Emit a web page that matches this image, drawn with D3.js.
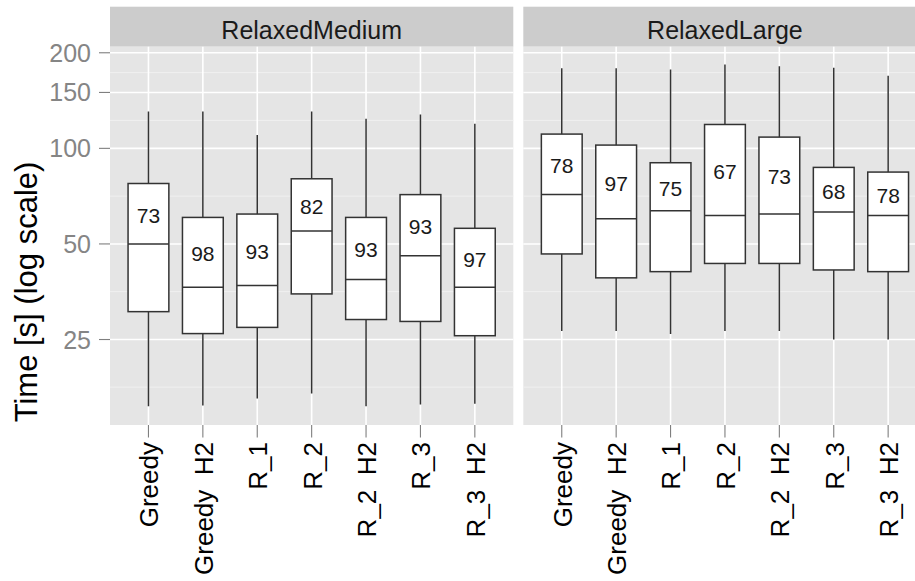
<!DOCTYPE html>
<html lang="en">
<head>
	<meta charset="utf-8">
	<title>Time per algorithm - RelaxedMedium / RelaxedLarge</title>
	<script src="https://cdn.jsdelivr.net/npm/d3@7"></script>
	<style>
		body { margin: 0; background: #fff; }
		svg { display: block; font-family: "Liberation Sans", Arial, sans-serif; }
		.xlab { white-space: pre; }
	</style>
</head>
<body>
	<svg width="915" height="581"></svg>

	<script type="text/javascript">

		// facets and categories
		var panels = ["RelaxedMedium", "RelaxedLarge"];
		var algorithms = ["Greedy", "Greedy  H2", "R_1", "R_2", "R_2  H2", "R_3", "R_3  H2"];

		// y axis (log scale)
		var yBreaks = [25, 50, 100, 150, 200];
		var yMinorBreaks = [17.7, 35.4, 70.7, 122.5, 173.2];

		// RelaxedMedium box stats (seconds)
		var lowMedium    = [15.4, 15.5, 16.3, 16.9, 15.4, 15.6, 15.7];
		var q1Medium     = [30.6, 26.1, 27.3, 34.8, 28.9, 28.5, 25.7];
		var medianMedium = [50.0, 36.5, 37.0, 54.9, 38.6, 45.9, 36.5];
		var q3Medium     = [77.5, 60.6, 62.1, 80.2, 60.6, 71.5, 56.0];
		var highMedium   = [130.6, 130.6, 110.1, 130.6, 123.9, 127.8, 119.5];
		var countMedium  = [73, 98, 93, 82, 93, 93, 97];

		// RelaxedLarge box stats (seconds)
		var lowLarge    = [26.6, 26.6, 26.0, 26.6, 26.6, 25.0, 25.0];
		var q1Large     = [46.5, 39.1, 40.9, 43.4, 43.4, 41.4, 40.9];
		var medianLarge = [71.6, 60.0, 63.6, 61.4, 62.1, 63.0, 61.4];
		var q3Large     = [110.9, 102.4, 90.1, 118.9, 108.5, 87.1, 84.2];
		var highLarge   = [178.9, 178.9, 177.1, 183.6, 181.5, 179.3, 169.2];
		var countLarge  = [78, 97, 75, 67, 73, 68, 78];

		function rows(low, q1, med, q3, high, count) {
			return algorithms.map(function(a, i) {
				return {name: a, low: low[i], q1: q1[i], median: med[i], q3: q3[i], high: high[i], count: count[i]};
			});
		}
		var boxData = [
			rows(lowMedium, q1Medium, medianMedium, q3Medium, highMedium, countMedium),
			rows(lowLarge, q1Large, medianLarge, q3Large, highLarge, countLarge)
		];

		var svg = d3.select("svg");

		var panelTop = 46.7, panelBottom = 425, panelW = 403.3;
		var panelLeft = [110, 523.3];
		var stripTop = 6.7;

		var y = d3.scaleLog()
			.domain([13.45, 209])
			.range([panelBottom, panelTop]);

		// y axis ticks + labels
		var yAxis = svg.append("g").attr("class", "y-axis");
		yAxis.selectAll("line").data(yBreaks).enter().append("line")
			.attr("x1", 99).attr("x2", panelLeft[0])
			.attr("y1", function(d) { return y(d); })
			.attr("y2", function(d) { return y(d); })
			.attr("stroke", "#7f7f7f").attr("stroke-width", 1.1);
		yAxis.selectAll("text").data(yBreaks).enter().append("text")
			.attr("x", 91)
			.attr("y", function(d) { return y(d); })
			.attr("dy", "0.36em")
			.attr("text-anchor", "end")
			.attr("font-size", "25px")
			.attr("fill", "#858585")
			.text(function(d) { return d; });

		svg.append("text")
			.attr("transform", "translate(37,292) rotate(-90)")
			.attr("text-anchor", "middle")
			.attr("font-size", "31px")
			.attr("fill", "#000")
			.text("Time [s] (log scale)");

		panels.forEach(function(name, p) {
			var x0 = panelLeft[p];
			var x = d3.scalePoint()
				.domain(algorithms)
				.range([x0, x0 + panelW])
				.padding(0.707);
			var bw = x.step() * 0.75;

			var g = svg.append("g").attr("class", "panel");

			// strip
			g.append("rect")
				.attr("x", x0).attr("y", stripTop)
				.attr("width", panelW).attr("height", panelTop - stripTop)
				.attr("fill", "#cccccc");
			g.append("text")
				.attr("x", x0 + panelW / 2).attr("y", 39)
				.attr("text-anchor", "middle")
				.attr("font-size", "25px")
				.attr("fill", "#1a1a1a")
				.text(name);

			// panel background and grid
			g.append("rect")
				.attr("x", x0).attr("y", panelTop)
				.attr("width", panelW).attr("height", panelBottom - panelTop)
				.attr("fill", "#e5e5e5");
			g.selectAll(".minor").data(yMinorBreaks).enter().append("line")
				.attr("x1", x0).attr("x2", x0 + panelW)
				.attr("y1", function(d) { return y(d); })
				.attr("y2", function(d) { return y(d); })
				.attr("stroke", "#f2f2f2").attr("stroke-width", 0.9);
			g.selectAll(".major").data(yBreaks).enter().append("line")
				.attr("x1", x0).attr("x2", x0 + panelW)
				.attr("y1", function(d) { return y(d); })
				.attr("y2", function(d) { return y(d); })
				.attr("stroke", "#fff").attr("stroke-width", 1.6);
			g.selectAll(".vgrid").data(algorithms).enter().append("line")
				.attr("x1", function(d) { return x(d); })
				.attr("x2", function(d) { return x(d); })
				.attr("y1", panelTop).attr("y2", panelBottom)
				.attr("stroke", "#fff").attr("stroke-width", 1.6);

			// boxes
			var box = g.selectAll(".box").data(boxData[p]).enter().append("g")
				.attr("class", "box");
			box.append("line")
				.attr("x1", function(d) { return x(d.name); })
				.attr("x2", function(d) { return x(d.name); })
				.attr("y1", function(d) { return y(d.high); })
				.attr("y2", function(d) { return y(d.low); })
				.attr("stroke", "#333").attr("stroke-width", 1.5);
			box.append("rect")
				.attr("x", function(d) { return x(d.name) - bw / 2; })
				.attr("y", function(d) { return y(d.q3); })
				.attr("width", bw)
				.attr("height", function(d) { return y(d.q1) - y(d.q3); })
				.attr("fill", "#fff").attr("stroke", "#333").attr("stroke-width", 1.5);
			box.append("line")
				.attr("x1", function(d) { return x(d.name) - bw / 2; })
				.attr("x2", function(d) { return x(d.name) + bw / 2; })
				.attr("y1", function(d) { return y(d.median); })
				.attr("y2", function(d) { return y(d.median); })
				.attr("stroke", "#333").attr("stroke-width", 1.5);
			box.append("text")
				.attr("x", function(d) { return x(d.name); })
				.attr("y", function(d) { return (y(d.q3) + y(d.median)) / 2; })
				.attr("dy", "0.42em")
				.attr("text-anchor", "middle")
				.attr("font-size", "21px")
				.attr("fill", "#1a1a1a")
				.text(function(d) { return d.count; });

			// x ticks + rotated labels
			g.selectAll(".xtick").data(algorithms).enter().append("line")
				.attr("x1", function(d) { return x(d); })
				.attr("x2", function(d) { return x(d); })
				.attr("y1", panelBottom).attr("y2", 437.5)
				.attr("stroke", "#7f7f7f").attr("stroke-width", 1.1);
			g.selectAll(".xlab").data(algorithms).enter().append("text")
				.attr("class", "xlab")
				.attr("transform", function(d) { return "translate(" + x(d) + ",442) rotate(-90)"; })
				.attr("dy", "0.38em")
				.attr("text-anchor", "end")
				.attr("font-size", "26px")
				.attr("fill", "#000")
				.text(function(d) { return d; });
		});

	</script>
</body>
</html>
